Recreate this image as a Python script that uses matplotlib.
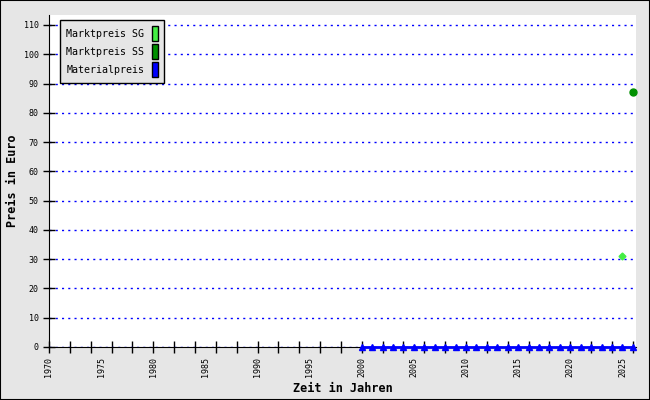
import numpy as np
import matplotlib.pyplot as plt
from matplotlib.patches import Patch

jahre_material = list(range(2000, 2027))
materialpreis = [0] * len(jahre_material)

jahr_sg = [2025]
marktpreis_sg = [31]

jahr_ss = [2026]
marktpreis_ss = [87]

grau = "#e6e6e6"
mono = "DejaVu Sans Mono"

fig = plt.figure(figsize=(6.5, 4), dpi=100, facecolor=grau)
fig.patches.append(plt.Rectangle((0, 0), 1, 1, transform=fig.transFigure,
                                 fill=False, edgecolor="black", linewidth=1.5))
ax = fig.add_axes([49 / 650, 53 / 400, (636 - 49) / 650, (347 - 15) / 400])
ax.set_facecolor("white")

ax.plot(jahre_material, materialpreis, color="#0000ff", linewidth=2,
        marker="^", markersize=5, clip_on=False, zorder=5)
ax.plot(jahr_sg, marktpreis_sg, linestyle="none", marker="D", markersize=3.5,
        color="#44ee44", clip_on=False, zorder=5)
ax.plot(jahr_ss, marktpreis_ss, linestyle="none", marker="o", markersize=5,
        color="#009000", clip_on=False, zorder=5)

ax.set_xlim(1970, 2026.3)
ax.set_ylim(0, 113.4)

# beschriftete Ticks alle 5 Jahre, Striche alle 2 Jahre
ax.xaxis.remove_overlapping_locs = False
ax.set_xticks(np.arange(1970, 2026, 5))
ax.set_xticklabels([str(j) for j in range(1970, 2026, 5)],
                   rotation=90, fontsize=6, family=mono)
ax.tick_params(axis="x", which="major", length=0, pad=7)
ax.set_xticks(np.arange(1970, 2027, 2), minor=True)
ax.tick_params(axis="x", which="minor", direction="inout", length=8, width=1)

ax.set_yticks(np.arange(0, 111, 10))
ax.set_yticklabels([str(v) for v in range(0, 111, 10)], fontsize=6, family=mono)
ax.tick_params(axis="y", direction="inout", length=8, width=1)
ax.yaxis.grid(True, color="#0000ff", linestyle=(0, (1.5, 3)), linewidth=1)
ax.set_axisbelow(True)

for s in ["top", "right"]:
    ax.spines[s].set_visible(False)

ax.set_xlabel("Zeit in Jahren", fontsize=8.5, family=mono, fontweight="bold", labelpad=4)
ax.set_ylabel("Preis in Euro", fontsize=8.5, family=mono, fontweight="bold", labelpad=3)

handles = [Patch(facecolor="#44ee44", edgecolor="black"),
           Patch(facecolor="#009000", edgecolor="black"),
           Patch(facecolor="#0000ff", edgecolor="black")]
leg = ax.legend(handles, ["Marktpreis SG", "Marktpreis SS", "Materialpreis"],
                loc="upper left", bbox_to_anchor=(0.019, 0.985), markerfirst=False,
                prop={"family": mono, "size": 7.2}, fancybox=False,
                facecolor=grau, edgecolor="black", framealpha=1,
                handlelength=0.6, handleheight=2.0, handletextpad=0.8,
                labelspacing=0.25, borderpad=0.6, borderaxespad=0)
leg.get_frame().set_linewidth(1)

fig.savefig("out.png", dpi=100, facecolor=grau)
